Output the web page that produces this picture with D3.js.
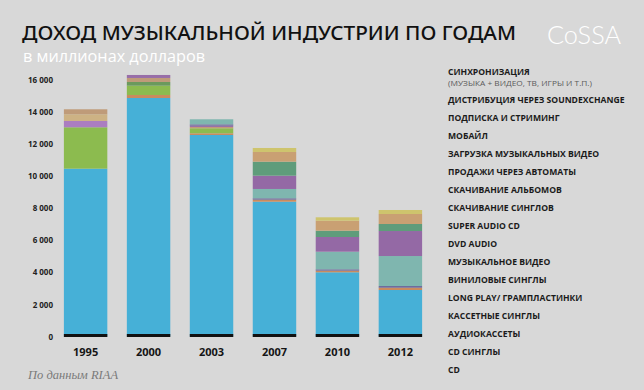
<!DOCTYPE html>
<html><head><meta charset="utf-8">
<script src="https://cdn.jsdelivr.net/npm/d3@7"></script>
<style>
html,body{margin:0;padding:0;background:#d8d8d8;}
svg{display:block;}
</style></head>
<body><svg id="chart" width="644" height="390"></svg>
<script>
// ---- DATA ----
const years = ["1995", "2000", "2003", "2007", "2010", "2012"];
const seriesNames = [
  "CD", "CD СИНГЛЫ", "АУДИОКАССЕТЫ", "КАССЕТНЫЕ СИНГЛЫ", "LONG PLAY/ ГРАМПЛАСТИНКИ",
  "ВИНИЛОВЫЕ СИНГЛЫ", "МУЗЫКАЛЬНОЕ ВИДЕО", "DVD AUDIO", "SUPER AUDIO CD",
  "СКАЧИВАНИЕ СИНГЛОВ", "СКАЧИВАНИЕ АЛЬБОМОВ", "ПРОДАЖИ ЧЕРЕЗ АВТОМАТЫ",
  "ЗАГРУЗКА МУЗЫКАЛЬНЫХ ВИДЕО", "МОБАЙЛ", "ПОДПИСКА И СТРИМИНГ",
  "ДИСТРИБУЦИЯ ЧЕРЕЗ SOUNDEXCHANGE", "СИНХРОНИЗАЦИЯ"
];
const syncNote = "(МУЗЫКА + ВИДЕО, ТВ, ИГРЫ И Т.П.)";
const cd              = [10468, 14878, 12570, 8410, 4005, 2900];
const cdSingles       = [0, 187, 105, 125, 100, 143];
const cassettes       = [2583, 580, 315, 0, 0, 0];
const cassetteSingles = [393, 0, 0, 0, 0, 0];
const lp              = [0, 231, 0, 0, 0, 0];
const vinylSingles    = [418, 0, 0, 0, 0, 0];
const musicVideo      = [312, 250, 80, 0, 0, 0];
const dvdAudio        = [0, 187, 80, 0, 0, 0];
const sacd            = [0, 0, 85, 87, 87, 106];
const singleDownloads = [0, 0, 315, 580, 1098, 1871];
const albumDownloads  = [0, 0, 0, 830, 917, 1560];
const kiosk           = [0, 0, 0, 0, 0, 0];
const videoDownloads  = [0, 0, 0, 0, 0, 0];
const mobile          = [0, 0, 0, 873, 393, 437];
const subscription    = [0, 0, 0, 605, 624, 624];
const soundExchange   = [0, 0, 0, 0, 0, 0];
const sync            = [0, 0, 0, 250, 212, 250];
const seriesValues = [cd, cdSingles, cassettes, cassetteSingles, lp, vinylSingles,
  musicVideo, dvdAudio, sacd, singleDownloads, albumDownloads, kiosk, videoDownloads,
  mobile, subscription, soundExchange, sync];
const colors = ["#46b0d7", "#c98b5e", "#8cbb4f", "#ab7dc0", "#6b9a5d", "#cdb284",
  "#bf9b79", "#986ea8", "#6c6a9c", "#7fb6af", "#9469a5", "#b0b0b0", "#a0a0a0",
  "#5f9c7b", "#c9a073", "#c4a070", "#cec46d"];
const yTicks = [0, 2000, 4000, 6000, 8000, 10000, 12000, 14000, 16000];

// ---- BUILD ----
const svg = d3.select("#chart");
const table = years.map((yr, i) => {
  const row = {year: yr};
  seriesNames.forEach((s, k) => row[s] = seriesValues[k][i]);
  return row;
});
const stack = d3.stack().keys(seriesNames)(table);

const x = d3.scaleBand().domain(years).range([45, 441]).paddingInner(0.31).paddingOuter(0.3);
const y = d3.scaleLinear().domain([0, 16000]).range([336.5, 80]);
const color = d3.scaleOrdinal().domain(seriesNames).range(colors);

// title
svg.append("text").attr("x", 22).attr("y", 40)
  .attr("font-family", "Noto Sans, sans-serif").attr("font-size", 20).attr("font-weight", 500)
  .attr("fill", "#111").attr("textLength", 494).attr("lengthAdjust", "spacingAndGlyphs")
  .text("ДОХОД МУЗЫКАЛЬНОЙ ИНДУСТРИИ ПО ГОДАМ");
svg.append("text").attr("x", 23).attr("y", 62)
  .attr("font-family", "Open Sans, sans-serif").attr("font-size", 15.5)
  .attr("fill", "#ffffff").attr("textLength", 182).attr("lengthAdjust", "spacingAndGlyphs")
  .text("в миллионах долларов");
svg.append("text").attr("x", 547).attr("y", 44)
  .attr("font-family", "Lato, Open Sans, sans-serif").attr("font-size", 25).attr("font-weight", 300)
  .attr("fill", "#ffffff").attr("textLength", 74).attr("lengthAdjust", "spacingAndGlyphs")
  .text("CoSSA");

// bars
const g = svg.append("g");
g.selectAll("g.layer").data(stack).join("g").attr("class", "layer")
  .attr("fill", d => color(d.key))
  .selectAll("rect").data(d => d).join("rect")
  .attr("x", d => x(d.data.year))
  .attr("width", x.bandwidth())
  .attr("y", d => y(d[1]))
  .attr("height", d => Math.max(0, y(d[0]) - y(d[1])));

// baseline strokes under each bar
g.selectAll("rect.base").data(years).join("rect").attr("class", "base")
  .attr("x", d => x(d)).attr("width", x.bandwidth())
  .attr("y", y(0) - 2.5).attr("height", 3).attr("fill", "#111");

// y axis
const fmt = v => d3.format(",")(v).replace(/,/g, " ");
const ya = svg.append("g").attr("transform", "translate(56,0)")
  .call(d3.axisLeft(y).tickValues(yTicks).tickSize(0).tickPadding(3).tickFormat(fmt));
ya.select(".domain").remove();
ya.selectAll("text").attr("font-family", "Open Sans, sans-serif").attr("font-size", 8)
  .attr("font-weight", 700).attr("fill", "#222");

// x axis
const xa = svg.append("g").attr("transform", "translate(0,340)")
  .call(d3.axisBottom(x).tickSize(0).tickPadding(8));
xa.select(".domain").remove();
xa.selectAll("text").attr("font-family", "Open Sans, sans-serif").attr("font-size", 11)
  .attr("font-weight", 700).attr("fill", "#151515");

// legend (text only, top to bottom)
const legendNames = seriesNames.slice().reverse();
const lg = svg.append("g").attr("transform", "translate(448,0)");
legendNames.forEach((n, i) => {
  const by = i === 0 ? 74.5 : 103 + (i - 1) * 18;
  lg.append("text").attr("x", 0).attr("y", by)
    .attr("font-family", "Open Sans, sans-serif").attr("font-size", 8.6).attr("font-weight", 700)
    .attr("fill", "#1b1b1b").text(n);
});
lg.append("text").attr("x", 0).attr("y", 86)
  .attr("font-family", "Open Sans, sans-serif").attr("font-size", 7.4)
  .attr("fill", "#5a5a5a").attr("textLength", 144).attr("lengthAdjust", "spacingAndGlyphs")
  .text(syncNote);

// source
svg.append("text").attr("x", 28).attr("y", 379)
  .attr("font-family", "Liberation Serif, DejaVu Serif, serif").attr("font-style", "italic")
  .attr("font-size", 12.5).attr("fill", "#7a7a7a").text("По данным RIAA");
</script></body></html>
